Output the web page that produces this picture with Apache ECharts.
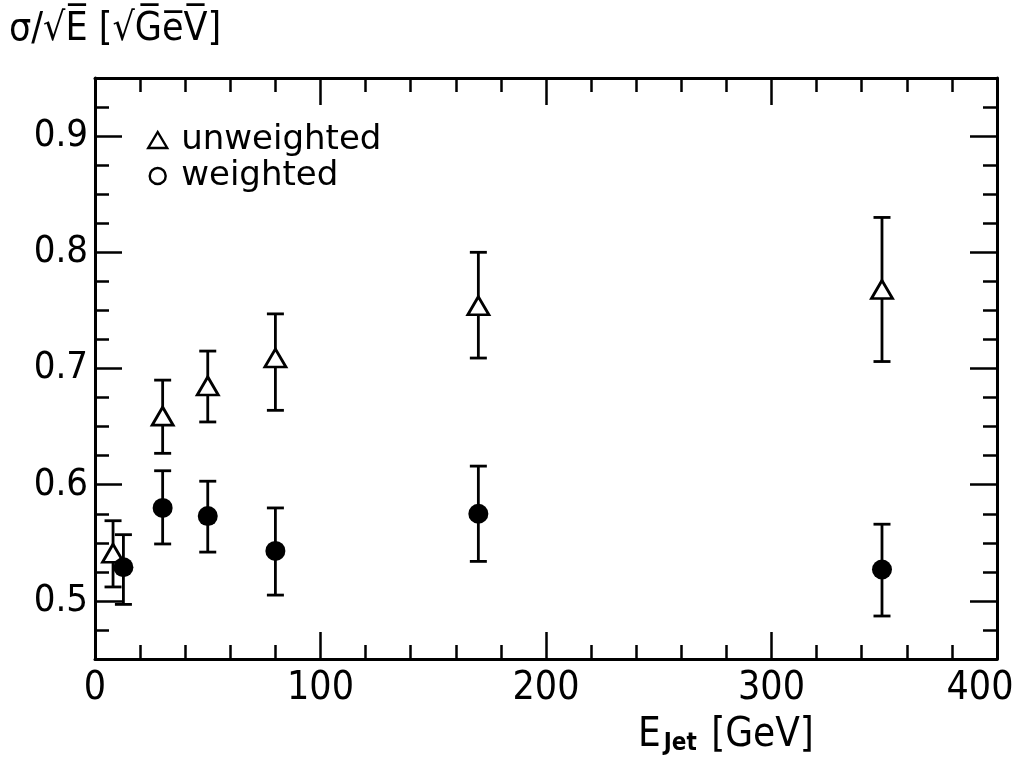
<!doctype html>
<html lang="en">
<head>
    <meta charset="UTF-8">
    <title>sigma over sqrt E</title>
    <style>
        *{margin: 0; padding: 0}
        body{background: #fff}
    </style>
</head>
<body>
<div id="block" style="width:1015px;height:762px"></div>

<script src="https://cdn.jsdelivr.net/npm/echarts@6/dist/echarts.min.js"></script>
<script>
    // data
    const energyU = [8, 30, 50, 80, 170, 349];
    const sigmaU  = [0.541, 0.659, 0.685, 0.709, 0.754, 0.768];
    const errLoU  = [0.512, 0.627, 0.654, 0.664, 0.709, 0.706];
    const errHiU  = [0.569, 0.690, 0.715, 0.747, 0.800, 0.830];

    const energyW = [12.6, 30, 50, 80, 170, 349];
    const sigmaW  = [0.529, 0.580, 0.573, 0.543, 0.575, 0.527];
    const errLoW  = [0.497, 0.549, 0.542, 0.505, 0.534, 0.487];
    const errHiW  = [0.557, 0.612, 0.603, 0.580, 0.616, 0.566];

    // tick labels
    const xLabels = [0, 100, 200, 300, 400];
    const yLabels = [0.5, 0.6, 0.7, 0.8, 0.9];
    const seriesNames = ['unweighted', 'weighted'];
</script>
<script>
    const numFont = '"DejaVu Sans Condensed", "DejaVu Sans", sans-serif';
    const txtFont = '"DejaVu Sans", sans-serif';
    const ink = '#000';

    const chart = echarts.init(document.getElementById('block'));

    // one axis with minor ticks, one overlaid with the long major ticks
    const makeX = function(pos, minor, labels) {
        return {
            type: 'value', position: pos, min: 0, max: 400,
            interval: minor ? 20 : 100,
            axisLine: {show: minor, onZero: false, lineStyle: {color: ink, width: 3}},
            axisTick: minor
                ? {inside: true, length: 14, lineStyle: {color: ink, width: 2.5}}
                : {inside: true, length: 27, customValues: xLabels, lineStyle: {color: ink, width: 2.5}},
            axisLabel: labels
                ? {show: true, customValues: xLabels, color: ink, fontFamily: numFont, fontSize: 39, margin: 10,
                   // last label sits a bit left of its tick so it stays on the page
                   formatter: v => v === 400 ? '{e|' + v + '}' : String(v),
                   rich: {e: {fontFamily: numFont, fontSize: 39, color: ink, padding: [0, 34, 0, 0]}}}
                : {show: false},
            splitLine: {show: false}
        };
    };
    const makeY = function(pos, minor, labels) {
        return {
            type: 'value', position: pos, min: 0.45, max: 0.95,
            interval: 0.025,
            axisLine: {show: minor, onZero: false, lineStyle: {color: ink, width: 3}},
            axisTick: minor
                ? {inside: true, length: 14, lineStyle: {color: ink, width: 2.5}}
                : {inside: true, length: 27, customValues: yLabels, lineStyle: {color: ink, width: 2.5}},
            axisLabel: labels
                ? {show: true, customValues: yLabels, color: ink, fontFamily: numFont, fontSize: 38, margin: 7,
                   formatter: v => v.toFixed(1)}
                : {show: false},
            splitLine: {show: false}
        };
    };

    const errData = function(xs, lo, hi) {
        return xs.map((x, i) => [x, lo[i], hi[i]]);
    };

    const renderErr = function(params, api) {
        const top = api.coord([api.value(0), api.value(2)]);
        const bot = api.coord([api.value(0), api.value(1)]);
        const cap = 8.5;
        const st = {stroke: ink, lineWidth: 2.8};
        return {
            type: 'group',
            children: [
                {type: 'line', shape: {x1: top[0], y1: top[1], x2: bot[0], y2: bot[1]}, style: st},
                {type: 'line', shape: {x1: top[0] - cap, y1: top[1], x2: top[0] + cap, y2: top[1]}, style: st},
                {type: 'line', shape: {x1: bot[0] - cap, y1: bot[1], x2: bot[0] + cap, y2: bot[1]}, style: st}
            ]
        };
    };

    let option = {
        animation: false,
        backgroundColor: '#fff',
        grid: {left: 95, right: 18, top: 78, bottom: 103, containLabel: false, outerBoundsMode: 'none'},
        xAxis: [makeX('bottom', true, true), makeX('bottom', false, false),
                makeX('top', true, false), makeX('top', false, false)],
        yAxis: [makeY('left', true, true), makeY('left', false, false),
                makeY('right', true, false), makeY('right', false, false)],
        legend: {
            orient: 'vertical', left: 142, top: 118, itemGap: 2,
            itemWidth: 19, itemHeight: 16,
            textStyle: {color: ink, fontFamily: txtFont, fontSize: 34, padding: [0, 0, 0, 9]},
            data: [
                {name: seriesNames[0], icon: 'triangle',
                 itemStyle: {color: '#fff', borderColor: ink, borderWidth: 2.4}},
                {name: seriesNames[1], icon: 'circle',
                 itemStyle: {color: '#fff', borderColor: ink, borderWidth: 2.4}}
            ]
        },
        graphic: [
            {type: 'text', left: 9, top: 10,
             style: {text: 'σ/√E\u0305 [√G\u0305e\u0305V\u0305]', fill: ink, font: '39px "DejaVu Sans Condensed", "DejaVu Sans", sans-serif'}},
            {type: 'text', left: 638, top: 716,
             style: {
                 text: '{a|E}{s|Jet}{a| [GeV]}',
                 rich: {
                     a: {fontFamily: numFont, fontSize: 40, fill: ink, verticalAlign: 'bottom'},
                     s: {fontFamily: numFont, fontSize: 24, fontWeight: 'bold', fill: ink, padding: [14, 3, 0, 3], verticalAlign: 'bottom'}
                 }
             }}
        ],
        series: [
            {
                type: 'custom', name: 'errU', renderItem: renderErr, z: 2,
                data: errData(energyU, errLoU, errHiU), silent: true
            },
            {
                type: 'custom', name: 'errW', renderItem: renderErr, z: 2,
                data: errData(energyW, errLoW, errHiW), silent: true
            },
            {
                type: 'scatter', name: seriesNames[0], z: 5,
                symbol: 'triangle', symbolSize: [21, 18],
                itemStyle: {color: '#fff', borderColor: ink, borderWidth: 2.8, opacity: 1},
                data: energyU.map((x, i) => [x, sigmaU[i]])
            },
            {
                type: 'scatter', name: seriesNames[1], z: 5,
                symbol: 'circle', symbolSize: 20,
                itemStyle: {color: ink, opacity: 1},
                data: energyW.map((x, i) => [x, sigmaW[i]])
            }
        ]
    };
    chart.setOption(option);
</script>
</body>
</html>
